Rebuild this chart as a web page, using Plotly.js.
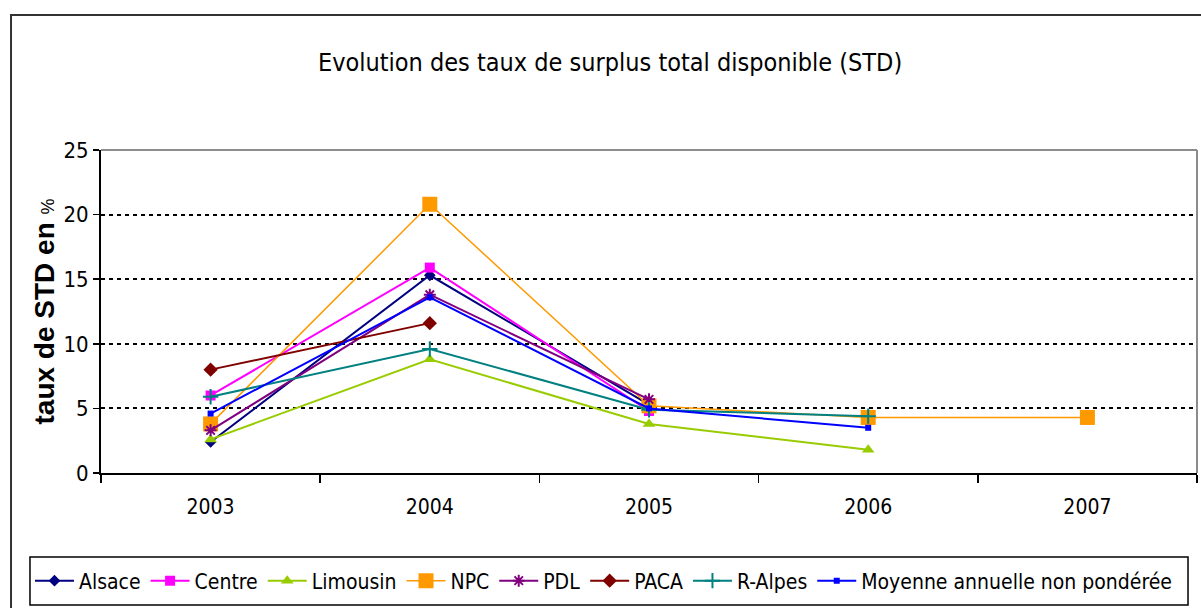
<!DOCTYPE html>
<html>
<head>
<meta charset="utf-8">
<script src="https://cdn.plot.ly/plotly-3.0.1.min.js"></script>
<style>html,body{margin:0;padding:0;background:#fff;}#chart{width:1201px;height:608px;}</style>
</head>
<body>
<div id="chart"></div>
<script>
const years = ['2003', '2004', '2005', '2006', '2007'];
const seriesNames = ['Alsace', 'Centre', 'Limousin', 'NPC', 'PDL', 'PACA', 'R-Alpes', 'Moyenne annuelle non pondérée'];
const alsace   = [2.4, 15.3, 5.3, null, null];
const centre   = [6.0, 15.9, 4.8, null, null];
const limousin = [2.6, 8.8, 3.8, 1.8, null];
const npc      = [3.8, 20.8, 5.2, 4.3, 4.3];
const pdl      = [3.3, 13.8, 5.7, null, null];
const paca     = [8.0, 11.6, null, null, null];
const rAlpes   = [5.9, 9.6, 4.9, 4.4, null];
const moyenne  = [4.6, 13.6, 5.0, 3.5, null];
const yTickVals = [0, 5, 10, 15, 20, 25];

const NARROW = '"Liberation Sans Narrow", "DejaVu Sans Condensed", "Arial Narrow", sans-serif';

const styles = [
  {c: '#000080', s: 'diamond', sz: 9, w: 2},
  {c: '#FF00FF', s: 'square', sz: 10, w: 2},
  {c: '#99CC00', s: 'triangle-up', sz: 11, w: 2},
  {c: '#FF9900', s: 'square', sz: 15, w: 1.5},
  {c: '#800080', s: 'asterisk-open', sz: 10, w: 2},
  {c: '#800000', s: 'diamond', sz: 11, w: 2},
  {c: '#008080', s: 'cross-thin-open', sz: 11, w: 2},
  {c: '#0000FF', s: 'square', sz: 6, w: 2}
];
const values = [alsace, centre, limousin, npc, pdl, paca, rAlpes, moyenne];

const traces = values.map((v, i) => ({
  type: 'scatter',
  mode: 'lines+markers',
  name: seriesNames[i],
  x: years,
  y: v,
  connectgaps: false,
  line: {color: styles[i].c, width: styles[i].w},
  marker: {symbol: styles[i].s, size: styles[i].sz, color: styles[i].c,
           line: {color: styles[i].c, width: (styles[i].s.indexOf('open') >= 0) ? 2 : 0}}
}));

const layout = {
  width: 1201, height: 608,
  margin: {l: 101, r: 4, t: 150, b: 135},
  paper_bgcolor: '#ffffff', plot_bgcolor: '#ffffff',
  showlegend: true,
  title: {
    text: 'Evolution des taux de surplus total disponible (STD)',
    font: {family: NARROW, size: 25, color: '#000'},
    x: 0.508, xref: 'container', xanchor: 'center',
    y: 0.898, yref: 'container', yanchor: 'middle'
  },
  xaxis: {
    type: 'category',
    range: [-0.5, 4.5],
    showgrid: false, zeroline: false,
    showline: true, linecolor: '#000', linewidth: 2,
    ticks: 'outside', tickson: 'boundaries', ticklen: 8, tickcolor: '#000', tickwidth: 1.5,
    ticklabelstandoff: 14,
    tickfont: {family: NARROW, size: 21, color: '#000'},
    fixedrange: true
  },
  yaxis: {
    range: [0, 25],
    tickvals: yTickVals,
    showgrid: true, gridcolor: '#000', gridwidth: 2, griddash: '4px,4px',
    zeroline: false,
    showline: true, linecolor: '#000', linewidth: 2,
    ticks: 'outside', ticklen: 6, tickcolor: '#000', tickwidth: 1.5,
    tickfont: {family: NARROW, size: 22, color: '#000'},
    title: {text: 'taux de STD en <span style="font-size:18px;font-weight:normal">%</span>',
            font: {family: '"Liberation Sans", Arial, sans-serif', size: 28, color: '#000', weight: 'bold'},
            standoff: 1},
    fixedrange: true
  },
  legend: {
    orientation: 'h',
    x: -0.0648, xanchor: 'left', xref: 'paper',
    y: -0.3344, yanchor: 'middle', yref: 'paper',
    borderwidth: 0, bgcolor: 'rgba(0,0,0,0)',
    font: {family: NARROW, size: 21, color: '#000'},
    itemwidth: 39, tracegroupgap: 0
  },
  shapes: [
    {type: 'line', xref: 'paper', yref: 'paper', x0: 0, x1: 1, y0: 1, y1: 1, line: {color: '#8c8c8c', width: 2}, layer: 'above'},
    {type: 'line', xref: 'paper', yref: 'paper', x0: 1, x1: 1, y0: 0, y1: 1, line: {color: '#8c8c8c', width: 2}, layer: 'above'},
    {type: 'rect', xref: 'paper', yref: 'paper', x0: -0.0648, x1: 0.9918, y0: -0.4087, y1: -0.26, line: {color: '#000', width: 1.5}, fillcolor: '#fff', layer: 'below'},
    {type: 'rect', xref: 'paper', yref: 'paper', x0: -0.0821, x1: 1.03, y0: -0.45, y1: 1.418, line: {color: '#333', width: 2}, fillcolor: 'rgba(0,0,0,0)', layer: 'below'}
  ]
};

Plotly.newPlot('chart', traces, layout, {displayModeBar: false, staticPlot: true});
</script>
</body>
</html>
